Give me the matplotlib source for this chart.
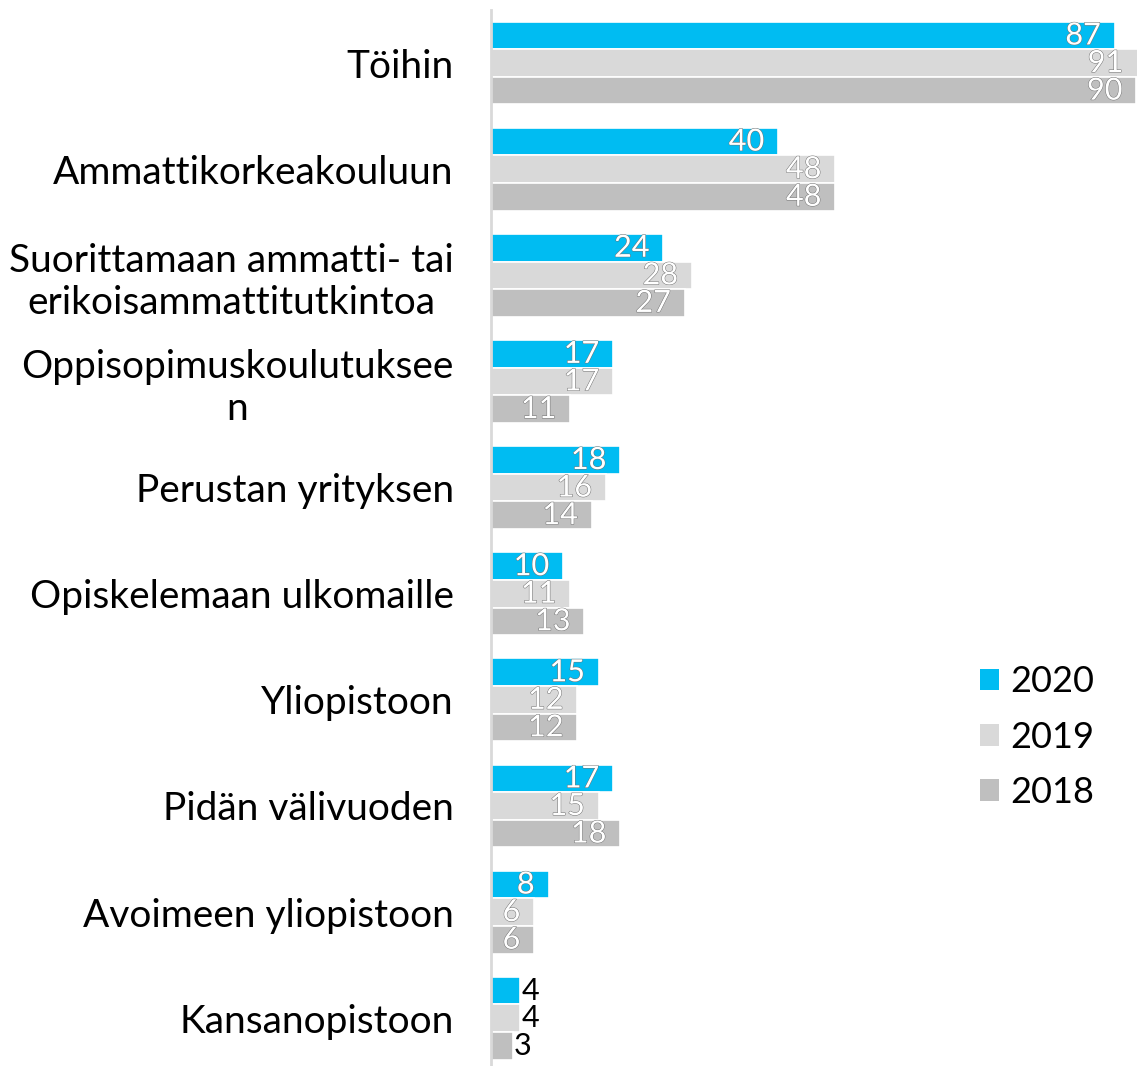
import matplotlib.pyplot as plt
import matplotlib.patheffects as pe
from matplotlib.patches import Patch
import numpy as np

plt.rcParams['font.family'] = ['Lato', 'DejaVu Sans']

categories = ['Töihin', 'Ammattikorkeakouluun',
              'Suorittamaan ammatti- tai\nerikoisammattitutkintoa',
              'Oppisopimuskoulutuksee\nn', 'Perustan yrityksen',
              'Opiskelemaan ulkomaille', 'Yliopistoon', 'Pidän välivuoden',
              'Avoimeen yliopistoon', 'Kansanopistoon']
years = ['2020', '2019', '2018']
v2020 = [87, 40, 24, 17, 18, 10, 15, 17, 8, 4]
v2019 = [91, 48, 28, 17, 16, 11, 12, 15, 6, 4]
v2018 = [90, 48, 27, 11, 14, 13, 12, 18, 6, 3]
colors = ['#00BCF2', '#D9D9D9', '#BFBFBF']

fig = plt.figure(figsize=(11.37, 10.66), dpi=100)
ax = fig.add_axes([0.432, 0.0, 0.568, 1056 / 1066])

y = np.arange(len(categories))
h = 0.26
for i, (vals, c) in enumerate(zip([v2020, v2019, v2018], colors)):
    pos = y + (i - 1) * h
    ax.barh(pos, vals, height=h, color=c, edgecolor='white', linewidth=1.2)
    for yy, v in zip(pos, vals):
        if v >= 6:
            ax.annotate(str(v), (min(v, 90.1), yy), xytext=(-10, 0),
                        textcoords='offset points', annotation_clip=False,
                        ha='right', va='center', fontsize=22, color='white',
                        path_effects=[pe.withStroke(linewidth=0.7, foreground='#707070')])
        else:
            ax.annotate(str(v), (v, yy), xytext=(1, 0), textcoords='offset points',
                        ha='left', va='center', fontsize=22, color='black')

ax.set_xlim(0, 90.1)
ax.set_ylim(9.45, -0.5)
ax.set_yticks(y)
ax.set_yticklabels(categories, fontsize=28, color='black', multialignment='center')
ax.tick_params(axis='y', length=0, pad=27)
ax.set_xticks([])
for s in ['top', 'right', 'bottom']:
    ax.spines[s].set_visible(False)
ax.spines['left'].set_color('#D9D9D9')
ax.spines['left'].set_linewidth(2)

handles = [Patch(facecolor=c, label=l) for c, l in zip(colors, years)]
fig.legend(handles=handles, loc='center left', bbox_to_anchor=(0.833, 0.3085),
           frameon=False, handlelength=0.55, handleheight=0.55,
           handletextpad=0.3, labelspacing=0.62, prop={'size': 26})

fig.savefig('out.png', dpi=100)
